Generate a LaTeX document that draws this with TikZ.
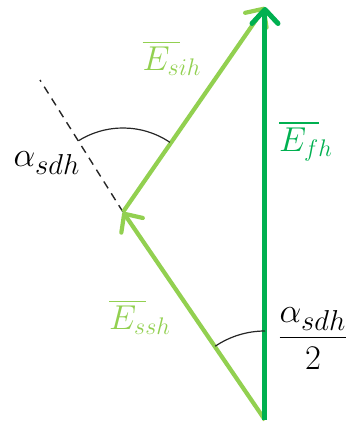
\documentclass[tikz,border=0pt]{standalone}
\usepackage{amsmath}
\usetikzlibrary{arrows.meta}
\definecolor{lgreen}{RGB}{146,208,80}
\definecolor{dgreen}{RGB}{0,176,80}
\tikzset{
  lvec/.style={draw=lgreen, line width=2.1pt, line join=round, -{Straight Barb[length=7pt,width=13pt,round]}},
  dvec/.style={draw=dgreen, line width=2.5pt, line join=round, -{Straight Barb[length=7pt,width=13pt,round]}},
  anglearc/.style={draw=black!85, line width=0.6pt},
  extline/.style={draw=black!85, line width=0.7pt, dash pattern=on 4pt off 3pt},
  elbl/.style={inner sep=0pt, font=\fontsize{17}{20}\selectfont},
  albl/.style={inner sep=0pt, font=\fontsize{19}{22}\selectfont}
}
\newcommand{\vecE}[1]{\rlap{$\overline{\phantom{E_{#1}}}$}E_}
\begin{document}
\begin{tikzpicture}[x=0.5pt,y=0.5pt]
\useasboundingbox (0,0) rectangle (349,425);
\coordinate (O) at (265,5);
\coordinate (T) at (265,418);
\coordinate (M) at (123,213);
\coordinate (D) at (40,345);
\draw[extline] (M) -- (D);
\draw[lvec] (O) -- (M);
\draw[lvec] (M) -- (T);
\draw[dvec] (O) -- (T);
\draw[anglearc] ([shift={(122:84)}]M) arc[start angle=122, end angle=56, radius=84];
\draw[anglearc] ([shift={(90:89)}]O) arc[start angle=90, end angle=124, radius=89];
\node[elbl, text=lgreen] (Esih) at (172,367) {$\vecE{s}{sih}$};
\node[elbl, text=dgreen] (Efh) at (306,284) {$\vecE{f}{fh}$};
\node[elbl, text=lgreen] (Essh) at (140,108) {$\vecE{s}{ssh}$};
\node[albl] (a1) at (47,262) {$\alpha_{sdh}$};
\node[albl] (a2) at (313,86) {$\dfrac{\alpha_{sdh}}{2}$};
\end{tikzpicture}
\end{document}
